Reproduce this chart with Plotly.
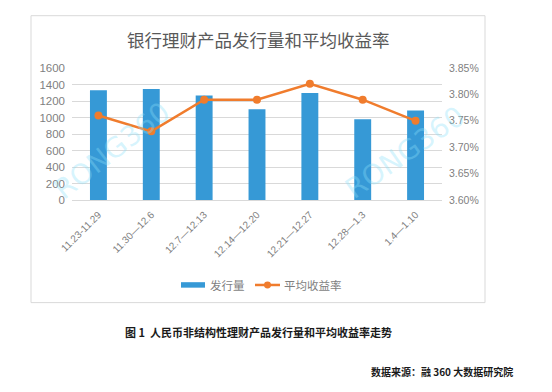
import plotly.graph_objects as go

categories = ["11.23-11.29", "11.30—12.6", "12.7—12.13", "12.14—12.20",
              "12.21—12.27", "12.28—1.3", "1.4—1.10"]
issuance = [1330, 1345, 1268, 1100, 1298, 980, 1085]
avg_yield = [3.76, 3.73, 3.79, 3.79, 3.82, 3.79, 3.75]
left_ticks = [0, 200, 400, 600, 800, 1000, 1200, 1400, 1600]
right_ticks = [3.60, 3.65, 3.70, 3.75, 3.80, 3.85]

OFF = 8  # page body margin
W, H = 552 - OFF, 392 - OFF
# plot area in reference (window) pixels
L, R, T, B = 72, 442, 67.5, 200
pw, ph = R - L, B - T

def px(x):
    return (x - L) / pw

def py(y):
    return (B - y) / ph

FONT = "Noto Sans CJK SC"
GRAY = "#7f7f7f"
BLUE = "#3699d6"
ORANGE = "#f07c2d"

fig = go.Figure()
fig.add_trace(go.Bar(x=categories, y=issuance, name="发行量",
                     marker=dict(color=BLUE, line=dict(width=0)),
                     width=0.32, showlegend=False))
fig.add_trace(go.Scatter(x=categories, y=avg_yield, name="平均收益率", yaxis="y2",
                         mode="lines+markers",
                         line=dict(color=ORANGE, width=2.5),
                         marker=dict(color=ORANGE, size=8), showlegend=False))

shapes = [
    dict(type="rect", xref="paper", yref="paper",
         x0=px(31), x1=px(485), y0=py(303), y1=py(15),
         line=dict(color="#d9d9d9", width=1), fillcolor="rgba(0,0,0,0)", layer="below"),
    # legend keys
    dict(type="rect", xref="paper", yref="paper",
         x0=px(181), x1=px(205), y0=py(288), y1=py(282.5),
         line=dict(width=0), fillcolor=BLUE),
    dict(type="line", xref="paper", yref="paper",
         x0=px(255), x1=px(280), y0=py(285.3), y1=py(285.3),
         line=dict(color=ORANGE, width=2.5)),
    dict(type="circle", xref="paper", yref="paper",
         x0=px(264), x1=px(271), y0=py(288.8), y1=py(281.8),
         line=dict(width=0), fillcolor=ORANGE),
]

fig.update_layout(
    width=W, height=H,
    margin=dict(l=L - OFF, r=W - (R - OFF), t=T - OFF, b=H - (B - OFF)),
    paper_bgcolor="white", plot_bgcolor="white",
    font=dict(family=FONT, color=GRAY, size=11),
    showlegend=False,
    xaxis=dict(type="category", tickangle=-45, showgrid=False, showline=True,
               linecolor="#d9d9d9", ticks="", ticklabelstandoff=4,
               tickfont=dict(size=10, color=GRAY, family="Liberation Sans")),
    yaxis=dict(range=[0, 1600], tickvals=left_ticks, showgrid=True,
               gridcolor="#d9d9d9", zeroline=False, ticks="", showline=False,
               ticklabelstandoff=6,
               tickfont=dict(size=11.5, color=GRAY, family="Liberation Sans")),
    yaxis2=dict(range=[3.60, 3.85], overlaying="y", side="right",
                tickvals=right_ticks, ticktext=[f"{v:.2f}%" for v in right_ticks],
                showgrid=False, zeroline=False, ticks="", ticklabelstandoff=6,
                tickfont=dict(size=10.5, color=GRAY, family="Liberation Sans Narrow, Liberation Sans")),
    shapes=shapes,
    annotations=[
        dict(text="银行理财产品发行量和平均收益率", xref="paper", yref="paper",
             x=px(258), y=py(39), xanchor="center", yanchor="middle", showarrow=False,
             font=dict(size=17.5, color="#595959", family=FONT)),
        dict(text="RONG360", xref="paper", yref="paper", x=px(112), y=py(150),
             xanchor="center", yanchor="middle", showarrow=False, textangle=-38,
             font=dict(size=28, color="rgba(140,225,250,0.35)", family="DejaVu Sans")),
        dict(text="RONG360", xref="paper", yref="paper", x=px(405), y=py(152),
             xanchor="center", yanchor="middle", showarrow=False, textangle=-35,
             font=dict(size=28, color="rgba(140,225,250,0.35)", family="DejaVu Sans")),
        dict(text="发行量", xref="paper", yref="paper", x=px(208), y=py(285),
             xanchor="left", yanchor="middle", showarrow=False,
             font=dict(size=11.5, color=GRAY, family=FONT)),
        dict(text="平均收益率", xref="paper", yref="paper", x=px(282), y=py(285),
             xanchor="left", yanchor="middle", showarrow=False,
             font=dict(size=11.5, color=GRAY, family=FONT)),
        dict(text="<b>图 1  人民币非结构性理财产品发行量和平均收益率走势</b>", xref="paper", yref="paper",
             x=px(258), y=py(332), xanchor="center", yanchor="middle", showarrow=False,
             font=dict(size=11, color="#1a1a1a", family=FONT)),
        dict(text="<b>数据来源：融 360 大数据研究院</b>", xref="paper", yref="paper",
             x=px(515), y=py(372), xanchor="right", yanchor="middle", showarrow=False,
             font=dict(size=10, color="#1a1a1a", family=FONT)),
    ],
)

fig.write_html("out.html")
